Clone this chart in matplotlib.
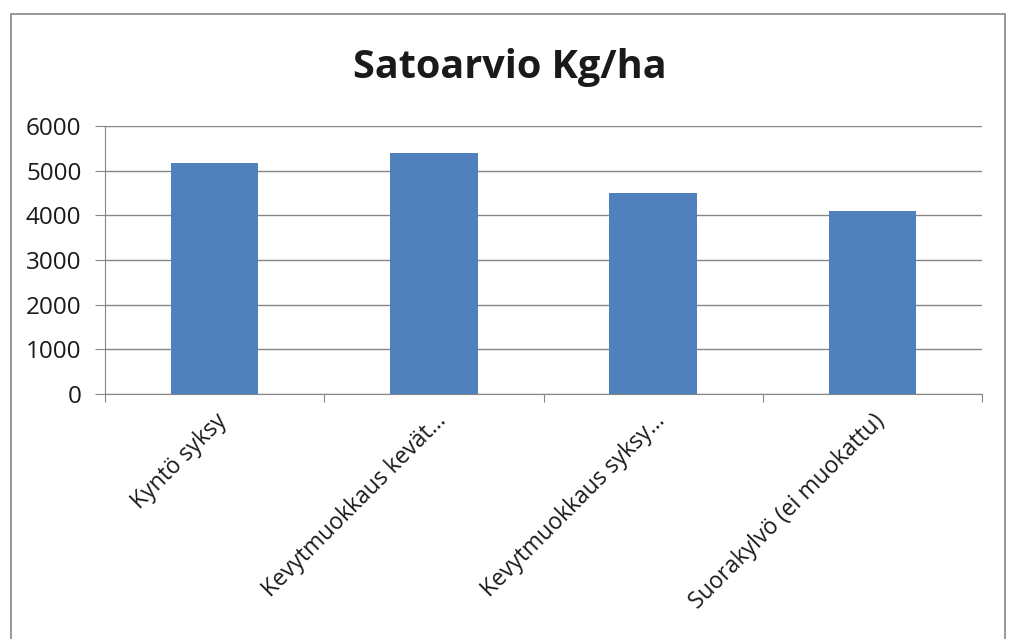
import matplotlib.pyplot as plt
from matplotlib.patches import Rectangle
from matplotlib.transforms import ScaledTranslation

categories = ['Kyntö syksy', 'Kevytmuokkaus kevät...', 'Kevytmuokkaus syksy...', 'Suorakylvö (ei muokattu)']
yields = [5180, 5400, 4500, 4100]
yticks = [0, 1000, 2000, 3000, 4000, 5000, 6000]

plt.rcParams['font.family'] = ['Open Sans', 'DejaVu Sans']

fig = plt.figure(figsize=(10.13, 6.39), dpi=100)
ax = fig.add_axes([105 / 1013, 1 - 394 / 639, 877 / 1013, 268 / 639])

x = range(len(categories))
ax.bar(x, yields, width=0.4, color='#4F81BD', zorder=3)

ax.set_xlim(-0.5, len(categories) - 0.5)
ax.set_ylim(0, 6000)
ax.set_yticks(yticks)
ax.set_yticklabels([str(v) for v in yticks], fontsize=17.5, color='#1a1a1a')
ax.yaxis.grid(True, color='#868686', linewidth=1, zorder=0)

ax.set_xticks([i - 0.5 for i in range(len(categories) + 1)])
ax.set_xticklabels([])
ax.set_xticks(list(x), minor=True)
labels = ax.set_xticklabels(categories, minor=True, rotation=45, ha='right', va='top',
                            rotation_mode='anchor', fontsize=16.5, color='#1a1a1a')
shift = ScaledTranslation(2 / 100, 0, fig.dpi_scale_trans)
for t in labels:
    t.set_transform(t.get_transform() + shift)
ax.tick_params(axis='x', which='minor', length=0, pad=11)
ax.tick_params(axis='x', which='major', length=6, color='#868686', direction='out')
ax.tick_params(axis='y', length=7, color='#868686', direction='out', pad=10)

for s in ['top', 'right']:
    ax.spines[s].set_visible(False)
ax.spines['left'].set_color('#868686')
ax.spines['bottom'].set_color('#868686')

fig.text(510 / 1013, 1 - 78 / 639, 'Satoarvio Kg/ha', ha='center', va='baseline',
         fontsize=28.5, fontweight='bold', color='#1a1a1a')

fig.patches.append(Rectangle((11 / 1013, -0.05), 994 / 1013, 1.05 - 14 / 639,
                             transform=fig.transFigure, fill=False,
                             edgecolor='#868686', linewidth=1.2))

fig.savefig('out.png', dpi=100)
